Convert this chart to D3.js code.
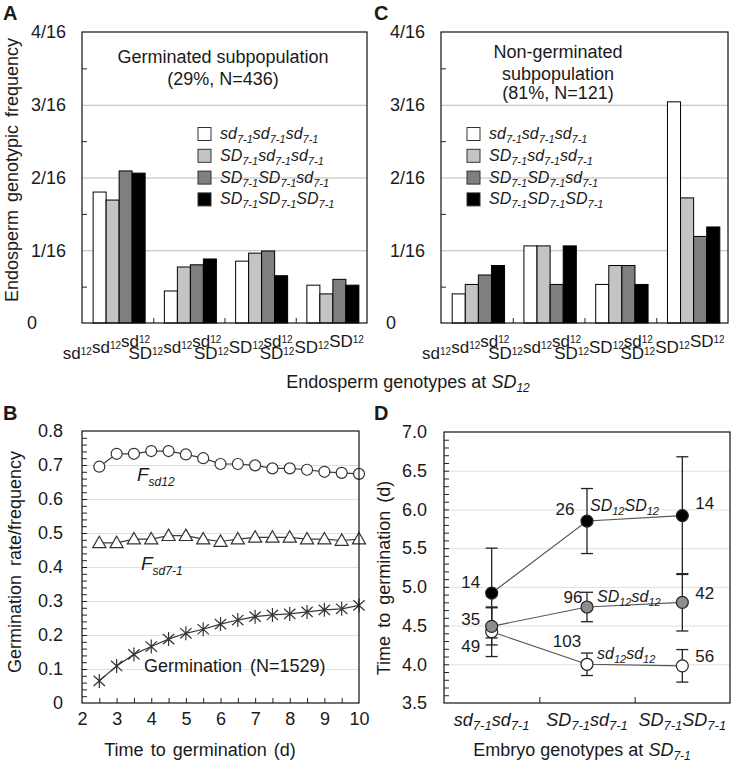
<!DOCTYPE html>
<html><head><meta charset="utf-8">
<script src="https://cdn.jsdelivr.net/npm/d3@7"></script>
<style>
body{margin:0;background:#fff}
text{font-family:"Liberation Sans",Arial,Helvetica,sans-serif;fill:#1a1a1a}
</style>
</head><body>
<svg id="fig" width="732" height="763"></svg>
<script>
// ================= DATA =================
// Panels A & C: endosperm genotypes at SD12 (groups) x genotypes at SD7-1 (series); values in units of 1/16
const sd12EndoGenotypes = ["sd_{12}sd_{12}sd_{12}","SD_{12}sd_{12}sd_{12}","SD_{12}SD_{12}sd_{12}","SD_{12}SD_{12}SD_{12}"];
const sd71EndoGenotypes = ["sd_{7-1}sd_{7-1}sd_{7-1}","SD_{7-1}sd_{7-1}sd_{7-1}","SD_{7-1}SD_{7-1}sd_{7-1}","SD_{7-1}SD_{7-1}SD_{7-1}"];
const freqTickLabels = ["0","1/16","2/16","3/16","4/16"];
// Germinated subpopulation (A)
const germ_sd71x3   = [1.80, 0.44, 0.85, 0.52];
const germ_SD71x1   = [1.69, 0.77, 0.96, 0.40];
const germ_SD71x2   = [2.09, 0.80, 0.99, 0.60];
const germ_SD71x3   = [2.06, 0.88, 0.65, 0.52];
// Non-germinated subpopulation (C)
const nongerm_sd71x3 = [0.40, 1.06, 0.53, 3.04];
const nongerm_SD71x1 = [0.53, 1.06, 0.79, 1.72];
const nongerm_SD71x2 = [0.66, 0.53, 0.79, 1.19];
const nongerm_SD71x3 = [0.79, 1.06, 0.53, 1.32];

// Panel B: time course
const days       = [2.5,3,3.5,4,4.5,5,5.5,6,6.5,7,7.5,8,8.5,9,9.5,10];
const freqSd12   = [0.695,0.733,0.733,0.741,0.741,0.731,0.720,0.703,0.703,0.699,0.690,0.690,0.686,0.680,0.677,0.674];
const freqSd71   = [0.471,0.471,0.482,0.482,0.492,0.492,0.482,0.475,0.482,0.487,0.487,0.487,0.482,0.482,0.478,0.482];
const germRate   = [0.065,0.109,0.143,0.166,0.188,0.205,0.217,0.232,0.244,0.254,0.259,0.262,0.268,0.274,0.277,0.287];

// Panel D: time to germination by embryo genotype at SD7-1
const embryoGenotypes = ["sd_{7-1}sd_{7-1}","SD_{7-1}sd_{7-1}","SD_{7-1}SD_{7-1}"];
const dSeriesNames = ["SD_{12}SD_{12}","SD_{12}sd_{12}","sd_{12}sd_{12}"];
const meanSDSD = [4.92, 5.85, 5.92];
const errSDSD  = [0.58, 0.42, 0.76];
const nSDSD    = [14, 26, 14];
const meanSDsd = [4.49, 4.74, 4.80];
const errSDsd  = [0.24, 0.19, 0.37];
const nSDsd    = [35, 96, 42];
const meansdsd = [4.42, 4.00, 3.98];
const errsdsd  = [0.32, 0.145, 0.21];
const nsdsd    = [49, 103, 56];

// ================= HELPERS =================
const svg = d3.select("#fig");
const TXT = "#1a1a1a";

function rich(sel, str, main, sub, subDy){
  const re = /_\{([^}]*)\}|([^_]+)/g; let m, prevSub=false;
  while((m = re.exec(str))){
    if(m[1] !== undefined){ sel.append("tspan").attr("font-size",sub).attr("dy",subDy).text(m[1]); prevSub=true; }
    else { sel.append("tspan").attr("font-size",main).attr("dy",prevSub?-subDy:0).text(m[2]); prevSub=false; }
  }
  return sel;
}
// staggered (rising) label used under bar charts
function stagger(sel, str, main, sub){
  const re = /_\{([^}]*)\}|([^_]+)/g; let m, first=true;
  while((m = re.exec(str))){
    if(m[1] !== undefined){ sel.append("tspan").attr("font-size",sub).attr("dy",-4).text(m[1]); }
    else { sel.append("tspan").attr("font-size",main).attr("dy",first?0:-2).text(m[2]); }
    first=false;
  }
  return sel;
}
function styleAxis(g, size){
  g.attr("font-size",size).attr("font-family",'"Liberation Sans",Arial,sans-serif');
  g.select(".domain").remove();
  g.selectAll("line").attr("stroke","#222");
  g.selectAll("text").attr("fill",TXT);
  return g;
}
function panelLetter(t,x,y){
  svg.append("text").attr("x",x).attr("y",y).attr("font-size",20).attr("font-weight","bold").text(t);
}

// ================= PANELS A & C =================
const barFills = ["#ffffff","#c4c4c4","#7f7f7f","#000000"];
function barPanel(cfg){
  const {L,R,T,B,series} = cfg;
  const y = d3.scaleLinear().domain([0,4]).range([B,T]);
  const x0 = d3.scaleBand().domain(sd12EndoGenotypes).range([L+1.5,R+1.5]).paddingInner(0.27).paddingOuter(0.135);
  const x1 = d3.scaleBand().domain(d3.range(series.length)).range([0,x0.bandwidth()]);
  const g = svg.append("g");
  g.append("g").attr("transform",`translate(${L},0)`)
    .call(d3.axisLeft(y).tickValues([1,2,3]).tickSize(-(R-L)).tickFormat(""))
    .call(a=>{a.select(".domain").remove(); a.selectAll("line").attr("stroke","#b9b9b9");});
  g.append("g").attr("transform",`translate(${L},0)`)
    .call(d3.axisLeft(y).tickValues([0.5,1.5,2.5,3.5]).tickSize(-5).tickFormat(""))
    .call(a=>styleAxis(a,10));
  const groups = g.selectAll("g.grp").data(sd12EndoGenotypes).join("g")
    .attr("transform",d=>`translate(${x0(d)},0)`);
  groups.selectAll("rect").data((d,gi)=>series.map((s,si)=>({si,v:s[gi]}))).join("rect")
    .attr("x",d=>x1(d.si)).attr("width",x1.bandwidth())
    .attr("y",d=>y(d.v)).attr("height",d=>B-y(d.v))
    .attr("fill",d=>barFills[d.si]).attr("stroke","#000").attr("stroke-width",1);
  const xi = d3.scaleLinear().domain([0,4]).range([L,R]);
  g.append("g").attr("transform",`translate(0,${B})`)
    .call(d3.axisBottom(xi).tickValues([1,2,3]).tickSize(-5).tickFormat(""))
    .call(a=>styleAxis(a,10));
  g.append("rect").attr("x",L).attr("y",T).attr("width",R-L).attr("height",B-T)
    .attr("fill","none").attr("stroke","#111").attr("stroke-width",1.2);
  const ya = g.append("g").attr("transform",`translate(${L},0)`)
    .call(d3.axisLeft(y).tickValues([0,1,2,3,4]).tickFormat((d,i)=>freqTickLabels[i]).tickSize(0).tickPadding(16))
    .call(a=>styleAxis(a,18));
  ya.selectAll("text").filter(d=>d===0).attr("text-anchor","start").attr("x",-55);
  sd12EndoGenotypes.forEach(lbl=>{
    const cx = x0(lbl)+x0.bandwidth()/2;
    const t = g.append("text").attr("x",cx+31).attr("y",B+36).attr("text-anchor","end");
    stagger(t,lbl,17,10);
  });
  cfg.title.forEach((s,i)=>{
    g.append("text").attr("x",cfg.titleX).attr("y",cfg.titleY[i]).attr("text-anchor","middle")
      .attr("font-size",18).text(s);
  });
  sd71EndoGenotypes.forEach((s,i)=>{
    const cy = cfg.legY + i*21.8;
    g.append("rect").attr("x",cfg.legX).attr("y",cy-6.5).attr("width",13).attr("height",13)
      .attr("fill",barFills[i]).attr("stroke","#333").attr("stroke-width",1);
    const t = g.append("text").attr("x",cfg.legX+22).attr("y",cy+5).attr("font-style","italic");
    rich(t,s,16,11,4);
  });
}
barPanel({L:82,R:367,T:32,B:323,
  series:[germ_sd71x3,germ_SD71x1,germ_SD71x2,germ_SD71x3],
  title:["Germinated subpopulation","(29%, N=436)"], titleX:223, titleY:[63,85],
  legX:198, legY:134});
barPanel({L:441,R:728,T:32,B:323,
  series:[nongerm_sd71x3,nongerm_SD71x1,nongerm_SD71x2,nongerm_SD71x3],
  title:["Non-germinated","subpopulation","(81%, N=121)"], titleX:558, titleY:[58,80,99],
  legX:467, legY:134});

svg.append("text").attr("transform","translate(18,170) rotate(-90)").attr("text-anchor","middle")
  .attr("font-size",18).attr("word-spacing",3).text("Endosperm genotypic frequency");
{
  const t = svg.append("text").attr("x",408).attr("y",388).attr("text-anchor","middle");
  t.append("tspan").attr("font-size",18).text("Endosperm genotypes at ");
  rich(t.append("tspan").attr("font-style","italic"),"SD_{12}",18,12,4);
}
panelLetter("A",3,20);
panelLetter("C",374,20);

// ================= PANEL B =================
{
  const L=82,R=359,T=431,B=703;
  const x = d3.scaleLinear().domain([2,10]).range([L,R]);
  const y = d3.scaleLinear().domain([0,0.8]).range([B,T]);
  const g = svg.append("g");
  g.append("g").attr("transform",`translate(${L},0)`)
    .call(d3.axisLeft(y).tickValues([0.1,0.2,0.3,0.4,0.5,0.6,0.7]).tickSize(-(R-L)).tickFormat(""))
    .call(a=>{a.select(".domain").remove(); a.selectAll("line").attr("stroke","#e0e0e0");});
  g.append("g").attr("transform",`translate(${L},0)`)
    .call(d3.axisLeft(y).tickValues(d3.range(1,40).map(i=>i*0.02)).tickSize(-5).tickFormat(""))
    .call(a=>styleAxis(a,10));
  g.append("g").attr("transform",`translate(0,${B})`)
    .call(d3.axisBottom(x).tickValues(d3.range(5,20).map(i=>i*0.5)).tickSize(-5).tickFormat(""))
    .call(a=>styleAxis(a,10));
  g.append("g").attr("transform",`translate(${L},0)`)
    .call(d3.axisLeft(y).tickValues([0,0.1,0.2,0.3,0.4,0.5,0.6,0.7,0.8]).tickFormat(d=>d===0?"0":d3.format(".1f")(d)).tickSize(0).tickPadding(19))
    .call(a=>styleAxis(a,18));
  g.append("g").attr("transform",`translate(0,${B})`)
    .call(d3.axisBottom(x).tickValues([2,3,4,5,6,7,8,9,10]).tickFormat(d3.format("d")).tickSize(0).tickPadding(9))
    .call(a=>styleAxis(a,18));
  const line = d3.line().x(d=>x(d[0])).y(d=>y(d[1]));
  [freqSd12,freqSd71,germRate].forEach(s=>{
    g.append("path").datum(days.map((d,i)=>[d,s[i]])).attr("d",line)
      .attr("fill","none").attr("stroke","#3a3a3a").attr("stroke-width",1.2);
  });
  g.selectAll("circle.m").data(days.map((d,i)=>[d,freqSd12[i]])).join("circle")
    .attr("cx",d=>x(d[0])).attr("cy",d=>y(d[1])).attr("r",5.5)
    .attr("fill","#fff").attr("stroke","#333").attr("stroke-width",1.2);
  g.selectAll("path.tri").data(days.map((d,i)=>[d,freqSd71[i]])).join("path")
    .attr("transform",d=>`translate(${x(d[0])},${y(d[1])+1})`)
    .attr("d",d3.symbol(d3.symbolTriangle,75)())
    .attr("fill","#fff").attr("stroke","#333").attr("stroke-width",1.2);
  const star = {draw(ctx,size){const r=Math.sqrt(size)/2; const a=r*Math.cos(Math.PI/5), b=r*Math.sin(Math.PI/5)*1.25;
    ctx.moveTo(0,-r);ctx.lineTo(0,r);ctx.moveTo(-a,-b);ctx.lineTo(a,b);ctx.moveTo(-a,b);ctx.lineTo(a,-b);}};
  g.selectAll("path.ast").data(days.map((d,i)=>[d,germRate[i]])).join("path")
    .attr("transform",d=>`translate(${x(d[0])},${y(d[1])})`)
    .attr("d",d3.symbol(star,196)())
    .attr("fill","none").attr("stroke","#333").attr("stroke-width",1.2);
  g.append("rect").attr("x",L).attr("y",T).attr("width",R-L).attr("height",B-T)
    .attr("fill","none").attr("stroke","#111").attr("stroke-width",1.2);
  let t = g.append("text").attr("x",137).attr("y",481).attr("font-style","italic");
  t.append("tspan").attr("font-size",19).text("F");
  t.append("tspan").attr("font-size",12).attr("dy",5).text("sd12");
  t = g.append("text").attr("x",141).attr("y",570).attr("font-style","italic");
  t.append("tspan").attr("font-size",19).text("F");
  t.append("tspan").attr("font-size",12).attr("dy",5).text("sd7-1");
  g.append("text").attr("x",144).attr("y",672).attr("font-size",18).attr("word-spacing",3).text("Germination (N=1529)");
  g.append("text").attr("x",200).attr("y",756).attr("text-anchor","middle").attr("font-size",18).attr("word-spacing",2).text("Time to germination (d)");
  svg.append("text").attr("transform","translate(21,562) rotate(-90)").attr("text-anchor","middle")
    .attr("font-size",18).attr("word-spacing",4).text("Germination rate/frequency");
  panelLetter("B",3,420);
}

// ================= PANEL D =================
{
  const L=444,R=730,T=432,B=703;
  const x = d3.scaleBand().domain(embryoGenotypes).range([L,R]);
  const y = d3.scaleLinear().domain([3.5,7]).range([B,T]);
  const cx = d=>x(d)+x.bandwidth()/2;
  const g = svg.append("g");
  g.append("g").attr("transform",`translate(${L},0)`)
    .call(d3.axisLeft(y).tickValues([4,4.5,5,5.5,6,6.5]).tickSize(-(R-L)).tickFormat(""))
    .call(a=>{a.select(".domain").remove(); a.selectAll("line").attr("stroke","#e0e0e0");});
  g.append("g").attr("transform",`translate(${L},0)`)
    .call(d3.axisLeft(y).tickValues(d3.range(36,70).map(i=>i/10)).tickSize(-5).tickFormat(""))
    .call(a=>styleAxis(a,10));
  const xi = d3.scaleLinear().domain([0,3]).range([L,R]);
  g.append("g").attr("transform",`translate(0,${B})`)
    .call(d3.axisBottom(xi).tickValues([1,2]).tickSize(-6).tickFormat(""))
    .call(a=>styleAxis(a,10));
  g.append("g").attr("transform",`translate(${L},0)`)
    .call(d3.axisLeft(y).tickValues([3.5,4,4.5,5,5.5,6,6.5,7]).tickFormat(d3.format(".1f")).tickSize(0).tickPadding(17))
    .call(a=>styleAxis(a,18));
  const dSeries = [
    {name:dSeriesNames[0], mean:meanSDSD, err:errSDSD, n:nSDSD, fill:"#000",
     nOff:[[-21,-11],[-22,-12],[13,-13]], nAnchor:["middle","middle","start"]},
    {name:dSeriesNames[1], mean:meanSDsd, err:errSDsd, n:nSDsd, fill:"#8e8e8e",
     nOff:[[-21,-7],[-14,-10],[13,-9]], nAnchor:["middle","middle","start"]},
    {name:dSeriesNames[2], mean:meansdsd, err:errsdsd, n:nsdsd, fill:"#fff",
     nOff:[[-21,14],[-20,-23],[13,-10]], nAnchor:["middle","middle","start"]}
  ];
  const line = d3.line().x(d=>cx(d.c)).y(d=>y(d.v));
  dSeries.forEach(s=>{
    const pts = embryoGenotypes.map((c,i)=>({c,v:s.mean[i],e:s.err[i],n:s.n[i],i}));
    s.pts = pts;
    g.append("path").datum(pts).attr("d",line).attr("fill","none").attr("stroke","#555").attr("stroke-width",1.1);
  });
  dSeries.forEach(s=>{
    s.pts.forEach(p=>{
      const X = cx(p.c);
      g.append("line").attr("x1",X).attr("x2",X).attr("y1",y(p.v-p.e)).attr("y2",y(p.v+p.e)).attr("stroke","#222").attr("stroke-width",1.3);
      [p.v-p.e,p.v+p.e].forEach(v=>g.append("line").attr("x1",X-6).attr("x2",X+6).attr("y1",y(v)).attr("y2",y(v)).attr("stroke","#222").attr("stroke-width",1.3));
    });
  });
  dSeries.slice().reverse().forEach(s=>{
    g.selectAll(null).data(s.pts).join("circle")
      .attr("cx",d=>cx(d.c)).attr("cy",d=>y(d.v)).attr("r",6)
      .attr("fill",s.fill).attr("stroke","#222").attr("stroke-width",1.2);
    s.pts.forEach(p=>{
      g.append("text").attr("x",cx(p.c)+s.nOff[p.i][0]).attr("y",y(p.v)+s.nOff[p.i][1]+6)
        .attr("text-anchor",s.nAnchor[p.i]).attr("font-size",17).text(p.n);
    });
  });
  [[0,590,511],[1,597,602],[2,597,659]].forEach(([si,xx,yy])=>{
    const t = g.append("text").attr("x",xx).attr("y",yy).attr("font-style","italic");
    rich(t,dSeries[si].name,16,11,4);
  });
  g.append("rect").attr("x",L).attr("y",T).attr("width",R-L).attr("height",B-T)
    .attr("fill","none").attr("stroke","#111").attr("stroke-width",1.2);
  embryoGenotypes.forEach(c=>{
    const t = g.append("text").attr("x",cx(c)).attr("y",726).attr("text-anchor","middle").attr("font-style","italic");
    rich(t,c,18,13,4);
  });
  const tt = g.append("text").attr("x",582).attr("y",756).attr("text-anchor","middle");
  tt.append("tspan").attr("font-size",18).text("Embryo genotypes at ");
  rich(tt.append("tspan").attr("font-style","italic"),"SD_{7-1}",18,12,4);
  svg.append("text").attr("transform","translate(390,578) rotate(-90)").attr("text-anchor","middle")
    .attr("font-size",18).attr("word-spacing",3).text("Time to germination (d)");
  panelLetter("D",374,420);
}
</script>
</body></html>
